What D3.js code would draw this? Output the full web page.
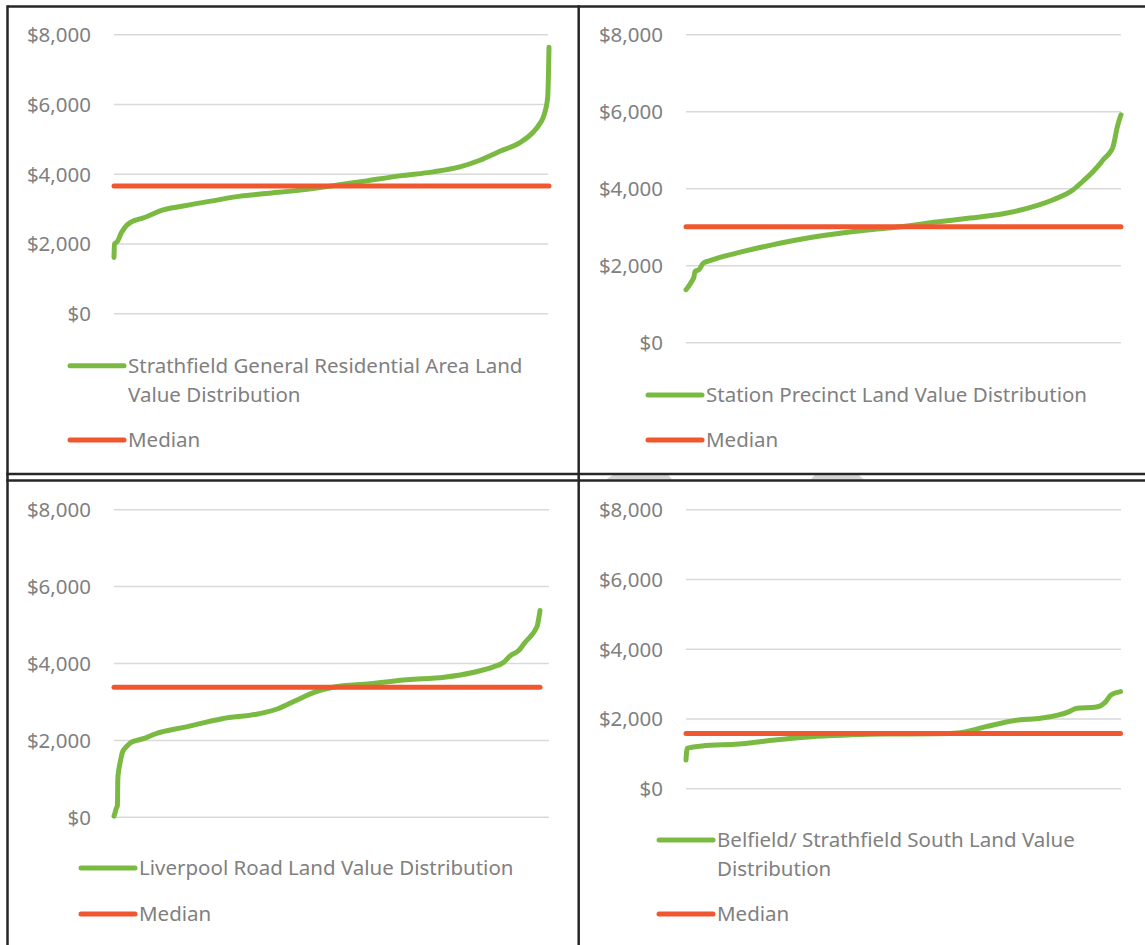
<!DOCTYPE html>
<html lang="en">
<head>
<meta charset="utf-8">
<script src="https://cdn.jsdelivr.net/npm/d3@7/dist/d3.min.js"></script>
<style>
  body { margin: 0; background: #fff; }
  text { font-family: "Noto Sans", sans-serif; font-size: 20.5px; fill: #808080; }
  .grid line { stroke: #d9d9d9; stroke-width: 1.5px; }
  .dist { fill: none; stroke: #7aba42; stroke-width: 5px; stroke-linejoin: round; stroke-linecap: round; }
  .median { stroke: #f0572f; stroke-width: 5px; stroke-linecap: round; }
  .frame { stroke: #262626; stroke-width: 2.5px; }
</style>
</head>
<body>
<div id="chart"></div>
<script>
// y axis ticks shared by all four charts
var yTicks = [0, 2000, 4000, 6000, 8000];

// percent rank of lot (sorted) and land value $/sqm
var grRank  = [0, 0.1, 0.7, 1.1, 1.6, 2.1, 2.8, 4.1, 6.0, 7.5, 10.6, 15.9, 23.6, 29, 35.1, 42.8, 50.4, 58.1, 65.7, 73.4, 79.5, 84.1, 88.7, 93.3, 96.4, 97.9, 98.7, 99.3, 99.7, 99.9, 100];
var grValue = [1610, 2000, 2060, 2150, 2300, 2400, 2520, 2640, 2720, 2780, 2950, 3086, 3257, 3371, 3448, 3543, 3666, 3809, 3952, 4066, 4209, 4400, 4657, 4905, 5209, 5450, 5638, 5900, 6209, 7000, 7640];
var grMedian = 3660;

var spRank  = [0, 0.5, 1.3, 1.8, 2.1, 3.0, 4.0, 5.5, 7.8, 13.2, 19.3, 27, 34.6, 42.3, 50, 57.6, 65.3, 72.9, 80.6, 84.4, 89, 91.3, 93.6, 95.2, 95.9, 97.5, 98.2, 98.6, 99, 99.5, 100];
var spValue = [1376, 1450, 1592, 1700, 1852, 1900, 2069, 2130, 2216, 2372, 2528, 2701, 2831, 2935, 3020, 3134, 3238, 3350, 3558, 3714, 3973, 4200, 4449, 4650, 4753, 4950, 5099, 5300, 5532, 5750, 5921];
var spMedian = 3010;

var lrRank  = [0, 0.2, 0.6, 0.8, 0.9, 1.1, 1.4, 1.9, 2.6, 3.3, 4.2, 5.4, 7.3, 9.8, 16.7, 25.4, 34, 38.5, 42.7, 47.1, 51.4, 60.1, 68.8, 77.5, 84.5, 88.9, 91.5, 93, 95, 96.5, 97.6, 98.8, 99.4, 100];
var lrValue = [30, 100, 250, 300, 1000, 1220, 1400, 1662, 1800, 1880, 1960, 2000, 2060, 2173, 2345, 2563, 2693, 2823, 3038, 3254, 3384, 3472, 3576, 3644, 3774, 3904, 4034, 4200, 4337, 4550, 4683, 4856, 5000, 5376];
var lrMedian = 3380;

var bsRank  = [0, 0.1, 0.3, 1.4, 3.7, 12.1, 20.5, 28.7, 37.2, 45.5, 58.1, 63.2, 69, 76.5, 81.6, 88.2, 89.9, 94.1, 96.6, 97.8, 100];
var bsValue = [823, 1000, 1159, 1190, 1225, 1282, 1397, 1492, 1540, 1569, 1575, 1607, 1779, 1971, 2020, 2209, 2307, 2335, 2496, 2688, 2783];
var bsMedian = 1580;

var grLabel = ["Strathfield General Residential Area Land", "Value Distribution"];
var spLabel = ["Station Precinct Land Value Distribution"];
var lrLabel = ["Liverpool Road Land Value Distribution"];
var bsLabel = ["Belfield/ Strathfield South Land Value", "Distribution"];
var medianLabel = "Median";

var W = 1145, H = 945;

// where each small chart sits on the page
var panels = [
  {rank: grRank, value: grValue, median: grMedian, label: grLabel,
   gx0: 114, gx1: 548, dx1: 549, yTop: 34.7, yBot: 313.7, tickX: 91,
   lgX: 70, lgY: 365.7, mdY: 440},
  {rank: spRank, value: spValue, median: spMedian, label: spLabel,
   gx0: 686, gx1: 1121, dx1: 1121, yTop: 34.7, yBot: 342.7, tickX: 663,
   lgX: 648, lgY: 395, mdY: 440},
  {rank: lrRank, value: lrValue, median: lrMedian, label: lrLabel,
   gx0: 114, gx1: 549, dx1: 540, yTop: 509.7, yBot: 817.3, tickX: 91,
   lgX: 81, lgY: 868, mdY: 914},
  {rank: bsRank, value: bsValue, median: bsMedian, label: bsLabel,
   gx0: 686, gx1: 1121, dx1: 1120.5, yTop: 509.7, yBot: 788.7, tickX: 663,
   lgX: 659, lgY: 840, mdY: 914}
];

var svg = d3.select("#chart").append("svg")
    .attr("width", W)
    .attr("height", H);

panels.forEach(function(p) {
  var x = d3.scaleLinear().domain([0, 100]).range([p.gx0, p.dx1]);
  var y = d3.scaleLinear().domain([0, 8000]).range([p.yBot, p.yTop]);

  var g = svg.append("g");

  var grid = g.append("g").attr("class", "grid");
  grid.selectAll("line")
    .data(yTicks)
    .enter().append("line")
      .attr("x1", p.gx0)
      .attr("x2", p.gx1)
      .attr("y1", function(d) { return y(d); })
      .attr("y2", function(d) { return y(d); });

  g.selectAll(".tick-label")
    .data(yTicks)
    .enter().append("text")
      .attr("class", "tick-label")
      .attr("x", p.tickX)
      .attr("y", function(d) { return y(d); })
      .attr("dy", "0.36em")
      .attr("text-anchor", "end")
      .text(function(d) { return "$" + d3.format(",")(d); });

  var pts = p.rank.map(function(r, i) { return [r, p.value[i]]; });
  var line = d3.line()
      .x(function(d) { return x(d[0]); })
      .y(function(d) { return y(d[1]); })
      .curve(d3.curveMonotoneX);

  g.append("path")
      .attr("class", "dist")
      .attr("d", line(pts));

  g.append("line")
      .attr("class", "median")
      .attr("x1", x(0))
      .attr("x2", x(100))
      .attr("y1", y(p.median))
      .attr("y2", y(p.median));

  // legend
  g.append("line")
      .attr("class", "dist")
      .attr("x1", p.lgX).attr("x2", p.lgX + 54)
      .attr("y1", p.lgY).attr("y2", p.lgY);
  var t = g.append("text")
      .attr("x", p.lgX + 58)
      .attr("y", p.lgY + 7.2);
  p.label.forEach(function(s, i) {
    t.append("tspan")
      .attr("x", p.lgX + 58)
      .attr("dy", i == 0 ? 0 : 29)
      .text(s);
  });

  g.append("line")
      .attr("class", "median")
      .attr("x1", p.lgX).attr("x2", p.lgX + 54)
      .attr("y1", p.mdY).attr("y2", p.mdY);
  g.append("text")
      .attr("x", p.lgX + 58)
      .attr("y", p.mdY + 7.2)
      .text(medianLabel);
});

// faint grey marks showing through between the two rows
svg.append("polygon")
    .attr("points", "606,479.5 614,474.5 668,474.5 672,479.5")
    .attr("fill", "#d6d6d6");
svg.append("polygon")
    .attr("points", "811,479.5 815,474.5 858,474.5 864,479.5")
    .attr("fill", "#d6d6d6");

// frames around the panels
var frame = svg.append("g");
frame.append("line").attr("class", "frame").attr("x1", 7.5).attr("x2", W).attr("y1", 6.5).attr("y2", 6.5);
frame.append("line").attr("class", "frame").attr("x1", 7.5).attr("x2", 7.5).attr("y1", 5.3).attr("y2", H);
frame.append("line").attr("class", "frame").attr("x1", 578.7).attr("x2", 578.7).attr("y1", 5.3).attr("y2", H);
frame.append("line").attr("class", "frame").attr("x1", 6.3).attr("x2", W).attr("y1", 474).attr("y2", 474);
frame.append("line").attr("class", "frame").attr("x1", 6.3).attr("x2", W).attr("y1", 480.5).attr("y2", 480.5);
</script>
</body>
</html>
